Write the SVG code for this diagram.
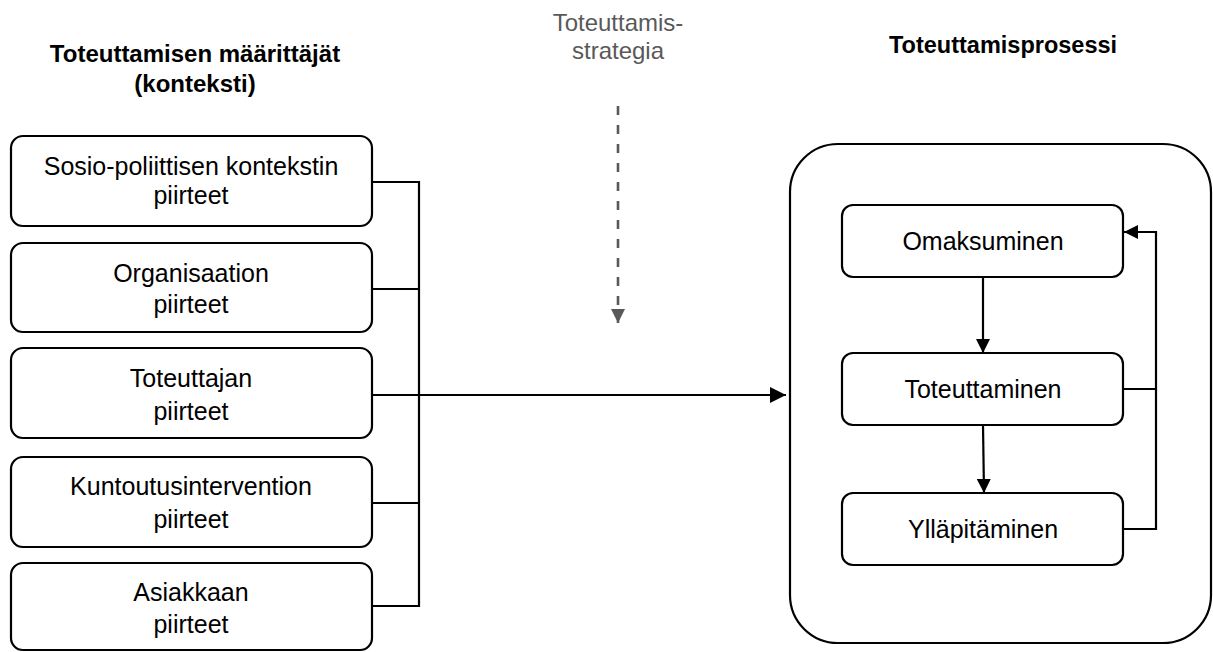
<svg xmlns="http://www.w3.org/2000/svg" width="1213" height="652" viewBox="0 0 1213 652">
<defs>
<style>
.box{fill:#fff;stroke:#000;stroke-width:2.2}
.t{font-family:"Liberation Sans",Arial,sans-serif;font-size:25px;fill:#000;text-anchor:middle}
.h{font-family:"Liberation Sans",Arial,sans-serif;font-size:24px;font-weight:bold;fill:#000;text-anchor:middle}
.g{font-family:"Liberation Sans",Arial,sans-serif;font-size:24px;fill:#595959;text-anchor:middle}
.ln{fill:none;stroke:#000;stroke-width:2.2}
.dash{fill:none;stroke:#595959;stroke-width:2.6;stroke-dasharray:9 10}
</style>
<marker id="ab" viewBox="0 0 16 16" refX="16" refY="8" markerWidth="16" markerHeight="16" markerUnits="userSpaceOnUse" orient="auto"><path d="M0,0 L16,8 L0,16 Z" fill="#000"/></marker>
<marker id="as" viewBox="0 0 14 14" refX="14" refY="7" markerWidth="14" markerHeight="14" markerUnits="userSpaceOnUse" orient="auto"><path d="M0,0 L14,7 L0,14 Z" fill="#000"/></marker>
<marker id="ag" viewBox="0 0 14 14" refX="14" refY="7" markerWidth="14" markerHeight="14" markerUnits="userSpaceOnUse" orient="auto"><path d="M0,0 L14,7 L0,14 Z" fill="#595959"/></marker>
</defs>
<rect width="1213" height="652" fill="#fff"/>

<g id="titles">
<text class="h" x="195" y="62">Toteuttamisen määrittäjät</text>
<text class="h" x="195" y="92">(konteksti)</text>
<text class="h" x="1003" y="53" style="font-size:23.5px">Toteuttamisprosessi</text>
</g>

<g id="strategy">
<text class="g" x="618" y="31">Toteuttamis-</text>
<text class="g" x="618" y="59">strategia</text>
</g>

<g id="process-container">
<rect class="box" x="790" y="144" width="421" height="499" rx="48"/>
</g>

<g id="n1">
<rect class="box" x="11" y="136" width="361" height="90" rx="12"/>
<text class="t" x="191" y="175">Sosio-poliittisen kontekstin</text>
<text class="t" x="191" y="204">piirteet</text>
</g>
<g id="n2">
<rect class="box" x="11" y="243" width="361" height="89" rx="12"/>
<text class="t" x="191" y="282">Organisaation</text>
<text class="t" x="191" y="313">piirteet</text>
</g>
<g id="n3">
<rect class="box" x="11" y="348" width="361" height="90" rx="12"/>
<text class="t" x="191" y="387">Toteuttajan</text>
<text class="t" x="191" y="420">piirteet</text>
</g>
<g id="n4">
<rect class="box" x="11" y="457" width="361" height="90" rx="12"/>
<text class="t" x="191" y="495">Kuntoutusintervention</text>
<text class="t" x="191" y="528">piirteet</text>
</g>
<g id="n5">
<rect class="box" x="11" y="563" width="361" height="87" rx="12"/>
<text class="t" x="191" y="601">Asiakkaan</text>
<text class="t" x="191" y="633">piirteet</text>
</g>

<g id="p1">
<rect class="box" x="842" y="205" width="281" height="72" rx="11"/>
<text class="t" x="983" y="250">Omaksuminen</text>
</g>
<g id="p2">
<rect class="box" x="842" y="353" width="281" height="72" rx="11"/>
<text class="t" x="983" y="398">Toteuttaminen</text>
</g>
<g id="p3">
<rect class="box" x="842" y="493" width="281" height="72" rx="11"/>
<text class="t" x="983" y="538">Ylläpitäminen</text>
</g>

<g id="connectors">
<path class="ln" d="M372,182 H419 M372,289 H419 M372,503 H419 M372,606 H419 M419,181 V607"/>
<path class="ln" d="M372,395 H786" marker-end="url(#ab)"/>
<path class="dash" d="M618,106 V323" marker-end="url(#ag)"/>
<path class="ln" d="M983,277 V353" marker-end="url(#as)"/>
<path class="ln" d="M983,425 L984,493" marker-end="url(#as)"/>
<path class="ln" d="M1123,389 H1156 M1123,529 H1156"/>
<path class="ln" d="M1156,530 V232 H1124" marker-end="url(#as)"/>
</g>
</svg>
